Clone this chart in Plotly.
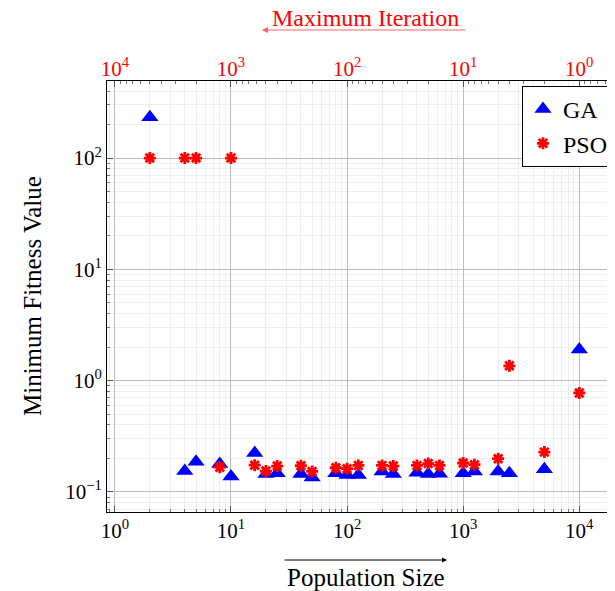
import plotly.graph_objects as go

# Data
population = [2, 4, 5, 8, 10, 16, 20, 25, 40, 50, 80, 100, 125, 200, 250, 400,
              500, 625, 1000, 1250, 2000, 2500, 5000, 10000]
max_iteration = [5000, 2500, 2000, 1250, 1000, 625, 500, 400, 250, 200, 125, 100,
                 80, 50, 40, 25, 20, 16, 10, 8, 5, 4, 2, 1]
ga_values = [232, 0.154, 0.187, 0.178, 0.138, 0.224, 0.145, 0.147, 0.145, 0.135,
             0.147, 0.142, 0.142, 0.153, 0.145, 0.149, 0.145, 0.146, 0.147, 0.153,
             0.153, 0.147, 0.160, 1.90]
pso_values = [100, 100, 100, 0.167, 100, 0.174, 0.154, 0.171, 0.172, 0.153,
              0.165, 0.162, 0.173, 0.173, 0.171, 0.173, 0.180, 0.173, 0.182, 0.176,
              0.199, 1.36, 0.228, 0.776]

x_ticks = [1, 10, 100, 1000, 10000]
x_ticktext = ["10<sup>0</sup>", "10<sup>1</sup>", "10<sup>2</sup>", "10<sup>3</sup>", "10<sup>4</sup>"]
top_ticks = [10000, 1000, 100, 10, 1]
top_ticktext = ["10<sup>4</sup>", "10<sup>3</sup>", "10<sup>2</sup>", "10<sup>1</sup>", "10<sup>0</sup>"]
y_ticks = [0.1, 1, 10, 100]
y_ticktext = ["10<sup>−1</sup>", "10<sup>0</sup>", "10<sup>1</sup>", "10<sup>2</sup>"]

FONT = "Liberation Serif"
OFF = 8  # page body margin of the html page
W, H = 615 - OFF, 591 - OFF
ML, MR, MT, MB = 107 - OFF, 0, 81 - OFF, 79
PW = W - ML - MR
PH = H - MT - MB
X0 = -0.068
X1 = X0 + PW / 116.1
Y0 = -1.18
Y1 = 2.692

fig = go.Figure()
fig.add_trace(go.Scatter(
    x=population, y=ga_values, mode="markers", name="GA",
    marker=dict(symbol="triangle-up", size=15, color="#0000ff",
                line=dict(width=0))))
fig.add_trace(go.Scatter(
    x=population, y=pso_values, mode="markers", name="PSO",
    marker=dict(symbol="asterisk-open", size=10, color="#ff0000",
                line=dict(width=2.8, color="#ff0000"))))
# invisible trace that carries the top (Maximum Iteration) axis
fig.add_trace(go.Scatter(
    x=max_iteration, y=ga_values, xaxis="x2", mode="markers",
    marker=dict(opacity=0), showlegend=False, hoverinfo="skip"))

grid_major = "#bcbcbc"
grid_minor = "#eeeeee"
TICKFONT = dict(family=FONT, size=21, color="black")

def px(xp):
    return (xp - OFF - ML) / PW

def py(yp):
    return (H - MB - (yp - OFF)) / PH

fig.update_layout(
    width=W, height=H,
    margin=dict(l=ML, r=MR, t=MT, b=MB, autoexpand=False),
    paper_bgcolor="white", plot_bgcolor="white",
    font=dict(family=FONT, size=21, color="black"),
    showlegend=True,
    legend=dict(x=0.998, y=py(86), xanchor="right", yanchor="top",
                bgcolor="white", bordercolor="black", borderwidth=1,
                font=dict(family=FONT, size=24), itemwidth=30),
    xaxis=dict(type="log", range=[X0, X1], tickmode="array", automargin=False,
               tickvals=x_ticks, ticktext=x_ticktext,
               ticks="inside", ticklen=6, tickcolor="#555555",
               showgrid=True, gridcolor=grid_major, gridwidth=1,
               showline=True, linecolor="black", linewidth=1, mirror=True,
               zeroline=False, tickfont=TICKFONT,
               minor=dict(dtick="D1", ticks="inside", ticklen=3, tickcolor="#777777",
                          showgrid=True, gridcolor=grid_minor, gridwidth=1)),
    xaxis2=dict(type="log", range=[4 - X0, 4 - X1], overlaying="x", side="top",
                anchor="y", tickmode="array", tickvals=top_ticks, automargin=False,
                ticktext=top_ticktext, ticks="inside", ticklen=6,
                tickcolor="#555555", showgrid=False, showline=False,
                zeroline=False, tickfont=dict(family=FONT, size=21, color="#ff0000"),
                minor=dict(dtick="D1", ticks="inside", ticklen=3, tickcolor="#777777")),
    yaxis=dict(type="log", range=[Y0, Y1], tickmode="array", automargin=False,
               tickvals=y_ticks, ticktext=y_ticktext,
               ticks="inside", ticklen=6, tickcolor="#555555",
               showgrid=True, gridcolor=grid_major, gridwidth=1,
               showline=True, linecolor="black", linewidth=1, mirror="ticks",
               zeroline=False, tickfont=TICKFONT,
               minor=dict(dtick="D1", ticks="inside", ticklen=3, tickcolor="#777777",
                          showgrid=True, gridcolor=grid_minor, gridwidth=1)),
)

C = dict(xref="paper", yref="paper", xanchor="center", yanchor="middle")
annotations = [
    dict(text="Population Size", x=px(366), y=py(577), showarrow=False,
         font=dict(family=FONT, size=25, color="black"), **C),
    dict(text="", x=px(447), y=py(560), showarrow=True, ax=-164, ay=0,
         arrowhead=2, arrowsize=1, arrowwidth=1, arrowcolor="black", **C),
    dict(text="Maximum Iteration", x=px(365), y=py(18), showarrow=False,
         font=dict(family=FONT, size=24, color="#ff0000"), **C),
    dict(text="", x=px(262), y=py(30), showarrow=True, ax=205, ay=0,
         arrowhead=2, arrowsize=1, arrowwidth=1.2,
         arrowcolor="rgba(255,0,0,0.6)", **C),
    dict(text="Minimum Fitness Value", x=px(32), y=py(296), showarrow=False,
         textangle=-90, font=dict(family=FONT, size=25, color="black"), **C),
]
fig.update_layout(annotations=annotations)

fig.write_html("out.html")
